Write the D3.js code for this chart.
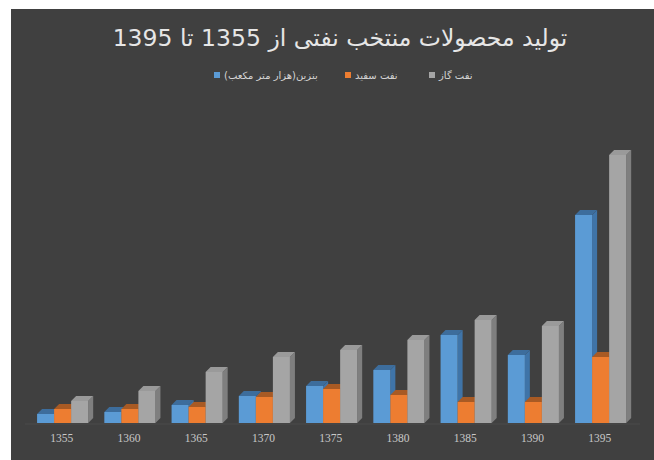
<!DOCTYPE html>
<html><head><meta charset="utf-8">
<script src="https://cdn.jsdelivr.net/npm/d3@7/dist/d3.min.js"></script>
<style>body{margin:0;background:#fff}svg{display:block}</style>
</head><body>
<svg id="c" width="654" height="460"></svg>
<script>
const categories = ["1355","1360","1365","1370","1375","1380","1385","1390","1395"];
const seriesNames = ["بنزین(هزار متر مکعب)", "نفت سفید", "نفت گاز"];
const gasoline = [9, 11, 18, 27, 37, 53, 88, 68, 208];
const kerosene = [14, 14, 16, 26, 34, 28, 21, 21, 66];
const gasoil = [22, 32, 51, 66, 73, 83, 103, 97, 268];
const titleText = "تولید محصولات منتخب نفتی از 1355 تا 1395";

const colors = [
  {front:"#5b9bd5", side:"#3f74a8", top:"#3d6d9c"},
  {front:"#ed7d31", side:"#b85f22", top:"#a85a24"},
  {front:"#a5a5a5", side:"#7f7f7f", top:"#9a9a9a"}
];
const series = [gasoline, kerosene, gasoil];

const svg = d3.select("#c");
svg.append("rect").attr("x",11).attr("y",9).attr("width",643).attr("height",451).attr("fill","#404040");

svg.append("text").attr("x",340).attr("y",46).attr("text-anchor","middle")
  .attr("font-family","DejaVu Sans").attr("font-size",23.5).attr("fill","#e6e6e6").attr("direction","rtl")
  .text(titleText);

// legend
const legendX = [217, 348, 432];
seriesNames.forEach((n,i)=>{
  svg.append("rect").attr("x",legendX[i]-3).attr("y",72).attr("width",6).attr("height",6).attr("fill",colors[i].front);
  svg.append("text").attr("x",legendX[i]+7).attr("y",79).attr("text-anchor","start")
    .attr("font-family","DejaVu Sans").attr("font-size",10).attr("fill","#d4d4d4").text(n);
});

const baseY = 423;
const x = d3.scaleBand().domain(categories).range([29, 634.25]).paddingInner(0.24).paddingOuter(0.12);
const y = d3.scaleLinear().domain([0, 300]).range([baseY, baseY-300]);
const bw = x.bandwidth()/3;
const dx = 5, dy = 5;

// floor line
svg.append("line").attr("x1",25).attr("x2",640).attr("y1",baseY+1).attr("y2",baseY+1).attr("stroke","#4a4a4a");

categories.forEach((c,ci)=>{
  series.forEach((s,si)=>{
    const x0 = x(c) + si*bw, x1 = x0 + bw, yt = y(s[ci]);
    const g = svg.append("g");
    g.append("path").attr("d",`M${x1},${baseY} L${x1+dx},${baseY-dy} L${x1+dx},${yt-dy} L${x1},${yt} Z`).attr("fill",colors[si].side);
    g.append("path").attr("d",`M${x0},${yt} L${x0+dx},${yt-dy} L${x1+dx},${yt-dy} L${x1},${yt} Z`).attr("fill",colors[si].top);
    g.append("rect").attr("x",x0).attr("y",yt).attr("width",bw).attr("height",baseY-yt).attr("fill",colors[si].front);
  });
});

const axis = d3.axisBottom(x).tickSize(0).tickPadding(11);
const ag = svg.append("g").attr("transform",`translate(-1,${baseY})`).call(axis);
ag.select(".domain").remove();
ag.selectAll("text").attr("font-family","Liberation Serif").attr("font-size",11.5).attr("fill","#c8c8c8");
</script>
</body></html>
